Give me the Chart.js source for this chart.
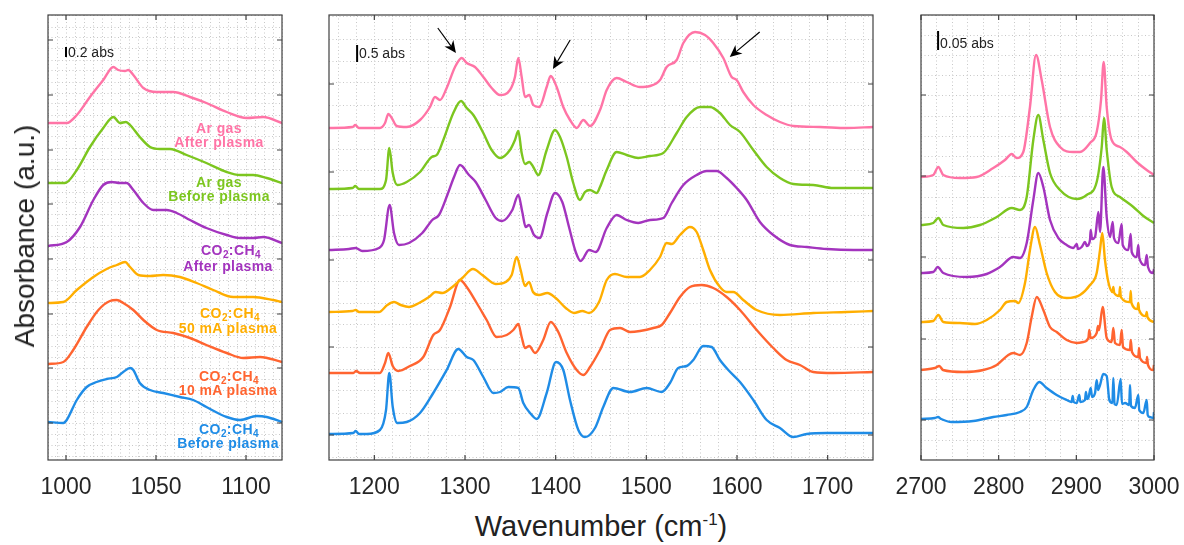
<!DOCTYPE html>
<html>
<head>
<meta charset="utf-8">
<script src="https://cdn.jsdelivr.net/npm/chart.js@4.4.1/dist/chart.umd.min.js"></script>
<style>
  body { margin: 0; background: #fff; font-family: "Liberation Sans", Arial, sans-serif; }
  #page { position: relative; width: 1184px; height: 545px; overflow: hidden; background: #fff; }
  .panel { position: absolute; }
  .lbl { position: absolute; font-weight: bold; font-size: 14px; line-height: 14px; letter-spacing: 0.4px; white-space: nowrap; transform: translate(-50%, -50%); z-index: 5; }
  .lbl sub { font-size: 10px; vertical-align: -3px; line-height: 0; }
  .bar-lbl { position: absolute; font-size: 14px; color: #222; white-space: nowrap; transform: translateY(-50%); z-index: 5; }
  #ytitle { position: absolute; left: 25px; top: 236px; font-size: 28px; color: #222; white-space: nowrap; transform: translate(-50%, -50%) rotate(-90deg); }
  #xtitle { position: absolute; left: 601px; top: 526px; font-size: 29px; color: #222; white-space: nowrap; transform: translate(-50%, -50%); }
  #xtitle sup { font-size: 17px; vertical-align: 11px; line-height: 0; }
</style>
</head>
<body>
<div id="page">
  <div class="panel" id="wrap1"><canvas id="c1"></canvas></div>
  <div class="panel" id="wrap2"><canvas id="c2"></canvas></div>
  <div class="panel" id="wrap3"><canvas id="c3"></canvas></div>

  <div class="lbl" style="left:219px;top:128px;color:#ff74a6">Ar gas</div>
  <div class="lbl" style="left:219px;top:142px;color:#ff74a6">After plasma</div>
  <div class="lbl" style="left:219px;top:182px;color:#7cc61f">Ar gas</div>
  <div class="lbl" style="left:219px;top:196px;color:#7cc61f">Before plasma</div>
  <div class="lbl" style="left:231px;top:250px;color:#a334be">CO<sub>2</sub>:CH<sub>4</sub></div>
  <div class="lbl" style="left:228px;top:266px;color:#a334be">After plasma</div>
  <div class="lbl" style="left:230px;top:313px;color:#ffae00">CO<sub>2</sub>:CH<sub>4</sub></div>
  <div class="lbl" style="left:228px;top:328px;color:#ffae00">50 mA plasma</div>
  <div class="lbl" style="left:229px;top:376px;color:#ff6430">CO<sub>2</sub>:CH<sub>4</sub></div>
  <div class="lbl" style="left:228px;top:390px;color:#ff6430">10 mA plasma</div>
  <div class="lbl" style="left:229px;top:429px;color:#1f8ce6">CO<sub>2</sub>:CH<sub>4</sub></div>
  <div class="lbl" style="left:228px;top:443px;color:#1f8ce6">Before plasma</div>

  <div class="bar-lbl" style="left:68px;top:52px">0.2 abs</div>
  <div class="bar-lbl" style="left:359px;top:53px">0.5 abs</div>
  <div class="bar-lbl" style="left:940px;top:43px">0.05 abs</div>

  <div id="ytitle">Absorbance (a.u.)</div>
  <div id="xtitle">Wavenumber (cm<sup>-1</sup>)</div>
</div>

<script>
// series order: top to bottom
var seriesNames = ['Ar gas, after plasma', 'Ar gas, before plasma', 'CO2:CH4, after plasma',
                   'CO2:CH4, 50 mA plasma', 'CO2:CH4, 10 mA plasma', 'CO2:CH4, before plasma'];
var seriesColors = ['#ff74a6', '#7cc61f', '#a334be', '#ffae00', '#ff6430', '#1f8ce6'];

// ---- panel 1 : 990-1120 cm-1 (offset absorbance, a.u.) ----
var p1ArAfter = [[990,337],[1000.4,337],[1006,345],[1013.3,363],[1020.7,380],[1026.3,393],[1029,390],[1032.8,389],[1034.6,390],[1037.4,385],[1043,372],[1050.4,368],[1059.6,368],[1068.9,363],[1078,357],[1089.3,348],[1100.4,342],[1109.6,343],[1120,337]];
var p1ArBefore = [[990,277],[999.4,277],[1006,290],[1013.3,313],[1020.7,332],[1026.3,343],[1030,337],[1033.3,338],[1035.6,335],[1041,323],[1046.7,313],[1052.2,311],[1057.8,311],[1067,305],[1078,297],[1089.3,288],[1096.7,285],[1104,285],[1111.5,282],[1120,277]];
var p1Co2After = [[990,214],[1000.4,218],[1007.8,233],[1015.2,260],[1020.7,275],[1025.4,278],[1030,277],[1033.7,277],[1037.4,270],[1043,257],[1048.5,250],[1055.9,250],[1061.5,247],[1068.9,240],[1078,232],[1089.3,225],[1096.7,222],[1104,222],[1109.6,223],[1120,217]];
var p1Co2Mid = [[990,157],[998.5,158],[1006,170],[1015.2,183],[1022.6,191],[1028.2,195],[1032.8,198],[1035.6,193],[1040.2,185],[1046.7,184],[1054,185],[1063.3,183],[1072.6,177],[1081.8,170],[1093,163],[1104,163],[1115,160],[1120,158]];
var p1Co2Low = [[990,96],[998.5,98],[1004,110],[1011.5,133],[1018,150],[1024.4,159],[1028.2,160],[1031.8,157],[1037.4,150],[1043,140],[1050.4,130],[1059.6,127],[1068.9,122],[1078,115],[1089.3,107],[1098.5,102],[1107.8,103],[1120,98]];
var p1Co2Before = [[990,38],[998.5,37],[1000.4,40],[1006,60],[1011.5,73],[1017,78],[1022.6,81],[1028.2,83],[1031.8,88],[1035.6,92],[1037.4,90],[1041,77],[1046.7,70],[1054,67],[1063.3,63],[1070.7,60],[1078,53],[1089.3,43],[1096.7,40],[1106,44],[1111.5,43],[1120,38]];
var p1ScaleBar = [[1000,403],[1000,413]];
var p1XTicks = [1000, 1050, 1100];
var p1YTicks = [37, 92, 146, 201, 256, 310, 365, 420];

// ---- panel 2 : 1150-1750 cm-1 ----
var p2ArAfter = [[1150,332],[1176,333],[1179,335],[1183,332],[1206.2,332],[1211.8,337],[1215.4,346],[1219.2,342],[1224.7,334],[1235.7,333],[1250.4,340],[1261.4,353],[1266.9,363],[1272.4,360],[1279.8,372],[1289,393],[1296.4,402],[1301.9,397],[1311,393],[1320.2,383],[1329.4,372],[1338.6,365],[1349.6,370],[1355.1,383],[1358.8,402],[1362.5,383],[1366.2,363],[1370.9,365],[1375.3,355],[1381.9,353],[1390.1,373],[1394.5,384],[1401.1,373],[1408.4,353],[1415.8,340],[1423.2,332],[1430.5,340],[1437.9,334],[1448.9,350],[1456.3,370],[1467.3,382],[1478.3,378],[1493,373],[1504,374],[1515.1,380],[1522.4,393],[1533.5,400],[1540.8,417],[1553.7,428],[1564.7,425],[1573.8,417],[1584.9,402],[1594.1,383],[1599.6,380],[1606.9,368],[1618,355],[1632.7,345],[1647.4,338],[1662.1,334],[1691.5,333],[1721,332],[1750,333]];
var p2ArBefore = [[1150,271],[1176,272],[1179,274],[1183,271],[1206.2,271],[1212.9,280],[1216.5,312],[1220.3,287],[1225.3,275],[1235.7,278],[1250.4,288],[1263.3,303],[1268.8,305],[1276.1,320],[1287.1,347],[1295.6,359],[1301.9,352],[1309.2,345],[1320.2,327],[1329.4,310],[1338.6,302],[1349.6,310],[1355.1,320],[1358.8,329],[1362.5,307],[1366.2,296],[1370.9,298],[1375.3,293],[1380.8,285],[1390.1,310],[1399.3,330],[1404.8,323],[1412.2,303],[1419.4,277],[1426.8,260],[1432.3,268],[1437.9,270],[1445.2,267],[1448.9,273],[1456.3,290],[1467.3,308],[1478.3,305],[1491.1,302],[1504,304],[1518.7,307],[1533.5,327],[1544.5,343],[1559.2,353],[1570.2,353],[1581.2,347],[1592.3,335],[1603.3,328],[1618,310],[1632.7,293],[1647.4,282],[1662.1,276],[1684.1,275],[1706.2,272],[1750,272]];
var p2Co2After = [[1150,210],[1172.1,211],[1179.4,212],[1186.7,209],[1205.1,212],[1210.7,220],[1216.9,255],[1221.7,227],[1227.2,215],[1238.2,217],[1252.9,227],[1263.9,240],[1271.3,245],[1280.5,265],[1287.9,283],[1294.5,295],[1304.4,285],[1311.8,278],[1322.8,260],[1333.9,242],[1341.1,239],[1352.2,250],[1358.8,265],[1363.2,248],[1366.9,233],[1370.6,235],[1376.1,225],[1382.4,222],[1390.8,247],[1399.3,267],[1407.3,258],[1414.7,233],[1422.1,208],[1427.6,199],[1436.8,210],[1444.2,208],[1456.3,232],[1467.3,245],[1478.3,240],[1491.1,237],[1504,240],[1518.7,242],[1528,257],[1540.8,275],[1555.5,285],[1566.6,289],[1577.6,289],[1588.6,282],[1599.6,272],[1610.7,260],[1625.3,238],[1640,225],[1658.4,215],[1676.9,213],[1698.9,211],[1728.3,210],[1750,210]];
var p2Co2Mid = [[1150,148],[1175.7,149],[1179.4,150],[1183.1,148],[1205.1,148],[1214.3,155],[1221.7,158],[1229.1,155],[1238.2,153],[1249.3,157],[1260.3,163],[1267.7,168],[1275,167],[1286,173],[1297,182],[1308.8,191],[1319.1,185],[1333.9,176],[1344.9,178],[1351.5,185],[1357,203],[1361.4,190],[1366.2,174],[1370.6,178],[1375,168],[1381.6,165],[1390.8,167],[1400,162],[1411.1,152],[1420.2,147],[1429.4,149],[1436.8,147],[1447.8,158],[1456.3,180],[1465.4,186],[1478.3,183],[1493,183],[1504,190],[1515.1,203],[1522.4,217],[1528,216],[1537.1,225],[1548.1,233],[1555.5,228],[1562.8,210],[1570.2,190],[1581.2,173],[1588.6,168],[1595.9,168],[1606.9,160],[1621.7,150],[1647.4,145],[1684.1,147],[1721,148],[1750,149]];
var p2Co2Low = [[1150,87],[1176.8,87],[1180,89],[1184.2,87],[1206.2,87],[1211.8,97],[1215.4,107],[1220.3,94],[1226.4,89],[1239.3,94],[1254,103],[1265,125],[1272.4,130],[1283.5,153],[1294.5,180],[1301.9,173],[1312.9,157],[1323.9,140],[1335,123],[1346,125],[1353.3,130],[1358.8,136],[1362.5,123],[1366.2,112],[1370.9,114],[1377.2,107],[1386.3,120],[1394.5,138],[1402.9,128],[1412.2,107],[1423.2,90],[1430.5,85],[1437.9,93],[1448.9,110],[1460,130],[1471,132],[1482,128],[1493,129],[1507.7,132],[1516.9,135],[1526.1,147],[1537.1,163],[1548.1,173],[1561,175],[1573.8,172],[1588.6,163],[1603.3,150],[1621.7,130],[1640,112],[1654.7,100],[1669.4,95],[1684.1,88],[1706.2,87],[1750,88]];
var p2Co2Before = [[1150,26],[1176.8,27],[1179.5,29],[1183,26],[1191.6,26],[1206.2,30],[1212.9,50],[1216.5,87],[1220.3,53],[1225.3,37],[1235.7,38],[1250.4,47],[1265,67],[1279.8,90],[1292.6,111],[1301.9,103],[1309.2,100],[1320.2,83],[1331.2,67],[1338.6,68],[1347.8,73],[1358.8,72],[1364.3,57],[1371.7,47],[1379.1,41],[1390.1,67],[1400.4,98],[1408.4,90],[1415.8,60],[1425,30],[1432.3,23],[1443.4,32],[1452.5,53],[1463.6,72],[1482,68],[1500.4,72],[1516.9,68],[1526.1,77],[1535.2,92],[1544.5,94],[1551.8,100],[1562.8,114],[1572,113],[1581.2,100],[1590.4,90],[1603.3,78],[1618,60],[1632.7,40],[1647.4,32],[1662.1,23],[1676.9,26],[1698.9,27],[1750,27]];
var p2ScaleBar = [[1181,398],[1181,415]];
var p2XTicks = [1200, 1300, 1400, 1500, 1600, 1700];
var p2YTicks = [25, 113, 200, 288, 376];
var p2Arrows = [
  { from: [1270, 432], to: [1290, 407] },
  { from: [1416, 420], to: [1397, 391] },
  { from: [1625, 428], to: [1592, 403] }
];

// ---- panel 3 : 2700-3000 cm-1 ----
var p3ArAfter = [[2700,283],[2715.8,285],[2722.3,293],[2728.7,285],[2750.2,282],[2771.7,283],[2793.1,292],[2808.1,300],[2816.8,306],[2823.2,302],[2831.7,308],[2840.3,353],[2848.1,405],[2855.4,380],[2866.1,333],[2879,313],[2896.1,308],[2904.7,308],[2917.6,317],[2926.2,328],[2931.8,360],[2935.2,398],[2939.1,353],[2945.5,320],[2956.2,313],[2964.9,308],[2977.7,298],[2990.6,290],[3000,285]];
var p3ArBefore = [[2700,235],[2715.8,237],[2722.3,242],[2728.7,235],[2754.5,232],[2776,235],[2797.5,243],[2816.8,252],[2827.5,250],[2836.1,263],[2844.6,320],[2851,345],[2857.5,320],[2866.1,287],[2879,270],[2900.5,261],[2913.3,265],[2926.2,278],[2932.7,313],[2935.6,342],[2939.1,310],[2945.5,273],[2956.2,263],[2973.4,253],[2986.3,244],[3000,237]];
var p3Co2After = [[2700,187],[2715.8,188],[2721.5,193],[2728.7,187],[2758.8,183],[2784.6,186],[2801.7,193],[2818.8,203],[2827.5,202],[2836.1,217],[2844.6,260],[2851,287],[2857.5,273],[2866.1,240],[2876.8,222],[2887.6,215],[2896.1,212],[2900.5,216],[2902.1,211],[2906.9,213],[2911.1,218],[2913.7,214],[2917.6,220],[2918.5,230],[2920.3,221],[2924.1,223],[2928.4,248],[2930.5,228],[2934.7,293],[2939.1,243],[2943.4,223],[2946.8,238],[2948.5,222],[2954,217],[2958.4,236],[2959.7,215],[2966.9,210],[2970,226],[2971.3,208],[2977.7,203],[2979.8,215],[2981.1,202],[2988.4,195],[2990.6,205],[2992.3,193],[2999,187],[3000,191]];
var p3Co2Mid = [[2700,138],[2715.8,139],[2722.3,145],[2728.7,138],[2750.2,137],[2769.5,136],[2784.6,140],[2801.7,150],[2810.3,158],[2821,159],[2825.3,157],[2833.9,177],[2840.3,210],[2846.8,233],[2853.2,215],[2861.8,187],[2872.5,168],[2887.6,162],[2904.7,165],[2917.6,175],[2926.2,187],[2930.5,210],[2933.4,227],[2936.9,200],[2941.2,178],[2946.5,168],[2947.6,173],[2948.8,167],[2955.2,164],[2956.2,173],[2957.3,163],[2969,158],[2970,169],[2971,157],[2978.8,151],[2979.8,157],[2980.8,150],[2989.6,144],[2990.6,148],[2991.6,143],[3000,138]];
var p3Co2Low = [[2700,90],[2718,92],[2723.6,94],[2728.3,90],[2754.5,88],[2780.2,90],[2797.5,95],[2812.4,105],[2818.8,107],[2827.5,105],[2836.1,117],[2842.5,143],[2849,163],[2857.5,150],[2866.1,133],[2874.7,128],[2887.6,120],[2900.5,117],[2909,118],[2915.5,122],[2916.7,130],[2918.3,122],[2926.2,127],[2927.9,134],[2929.2,130],[2933.9,153],[2939.1,122],[2945.5,118],[2947.6,132],[2949.8,117],[2956.2,115],[2958.4,130],[2960.1,113],[2969.1,110],[2970,120],[2971.7,108],[2979.8,103],[2980.7,112],[2982,102],[2990.6,97],[2991,103],[2992.3,95],[2999,90],[3000,95]];
var p3Co2Before = [[2700,41],[2718,42],[2721.9,43],[2726,41],[2739.5,38],[2767.3,39],[2793.1,43],[2810.3,45],[2827.5,48],[2836.1,53],[2844.6,70],[2852.3,78],[2861.8,72],[2874.7,65],[2887.6,60],[2894,58],[2895.3,64],[2896.6,58],[2900.5,57],[2903.8,65],[2905.1,58],[2911.1,60],[2912.4,68],[2913.7,61],[2915.5,62],[2918.5,72],[2920.3,63],[2924.1,67],[2926.2,80],[2927.9,70],[2930.5,75],[2934.7,86],[2939.1,84],[2942.5,60],[2946.5,57],[2947.6,82],[2949.2,56],[2952,55],[2957.1,81],[2958.8,56],[2962.7,57],[2968.1,55],[2969.1,75],[2970.4,54],[2975.5,52],[2979.8,65],[2981,50],[2986.3,47],[2990.6,60],[2991.9,45],[2994.4,43],[2999.4,42],[3000,48]];
var p3ScaleBar = [[2722,410],[2722,429]];
var p3XTicks = [2700, 2800, 2900, 3000];
var p3YTicks = [40, 121, 203, 284, 365];

var PAD = 40;

function xGrid(min, max, step) {
  var t = [];
  for (var v = Math.ceil(min / step) * step; v <= max + 1e-9; v += step) {
    t.push({ value: Math.round(v * 1000) / 1000 });
  }
  return t;
}

function yGrid(majors, parts, min, max) {
  var step = (majors[1] - majors[0]) / parts;
  var t = [];
  var v = majors[0];
  while (v - step >= min) v -= step;
  for (; v <= max + 1e-9; v += step) t.push({ value: v });
  return t;
}

var framePlugin = {
  id: 'frame',
  afterDatasetsDraw: function(chart) {
    var o = chart.options.plugins.frame;
    if (!o) return;
    var a = chart.chartArea, ctx = chart.ctx;
    var xs = chart.scales.x, ys = chart.scales.y;
    ctx.save();
    ctx.strokeStyle = '#404040';
    ctx.lineWidth = 1.2;
    ctx.strokeRect(a.left, a.top, a.right - a.left, a.bottom - a.top);
    ctx.beginPath();
    o.xMajor.forEach(function(v) {
      var px = xs.getPixelForValue(v);
      ctx.moveTo(px, a.bottom); ctx.lineTo(px, a.bottom - 5);
      ctx.moveTo(px, a.top); ctx.lineTo(px, a.top + 5);
    });
    o.yMajor.forEach(function(v) {
      var py = ys.getPixelForValue(v);
      ctx.moveTo(a.left, py); ctx.lineTo(a.left + 5, py);
      ctx.moveTo(a.right, py); ctx.lineTo(a.right - 5, py);
    });
    ctx.stroke();

    // arrows
    (o.arrows || []).forEach(function(ar) {
      var x1 = xs.getPixelForValue(ar.from[0]), y1 = ys.getPixelForValue(ar.from[1]);
      var x2 = xs.getPixelForValue(ar.to[0]), y2 = ys.getPixelForValue(ar.to[1]);
      var ang = Math.atan2(y2 - y1, x2 - x1);
      var len = 12, half = 5.5;
      var bx = x2 - Math.cos(ang) * len, by = y2 - Math.sin(ang) * len;
      var ix = x2 - Math.cos(ang) * len * 0.7, iy = y2 - Math.sin(ang) * len * 0.7;
      ctx.strokeStyle = '#000';
      ctx.lineWidth = 1.2;
      ctx.beginPath();
      ctx.moveTo(x1, y1); ctx.lineTo(ix, iy);
      ctx.stroke();
      ctx.fillStyle = '#000';
      ctx.beginPath();
      ctx.moveTo(x2, y2);
      ctx.lineTo(bx - Math.sin(ang) * half, by + Math.cos(ang) * half);
      ctx.lineTo(ix, iy);
      ctx.lineTo(bx + Math.sin(ang) * half, by - Math.cos(ang) * half);
      ctx.closePath();
      ctx.fill();
    });
    ctx.restore();
  }
};

function makePanel(canvasId, wrapId, box, cfg) {
  var wrap = document.getElementById(wrapId);
  wrap.style.left = (box.left - PAD) + 'px';
  wrap.style.top = (box.top - 5) + 'px';
  wrap.style.width = (box.width + 2 * PAD) + 'px';
  wrap.style.height = (box.height + 5 + 45) + 'px';

  var datasets = cfg.series.map(function(s, i) {
    return {
      label: seriesNames[i],
      data: s.map(function(p) { return { x: p[0], y: p[1] }; }),
      borderColor: seriesColors[i],
      borderWidth: 2.4,
      pointRadius: 0,
      cubicInterpolationMode: 'monotone',
      fill: false
    };
  });
  datasets.push({
    label: 'scale bar',
    data: cfg.scaleBar.map(function(p) { return { x: p[0], y: p[1] }; }),
    borderColor: '#000',
    borderWidth: 2,
    pointRadius: 0,
    fill: false
  });

  var xTickList = xGrid(cfg.xMin, cfg.xMax, cfg.xMinor);
  var yTickList = yGrid(cfg.yMajor, cfg.yParts, 0, 445);

  new Chart(document.getElementById(canvasId), {
    type: 'line',
    data: { datasets: datasets },
    options: {
      responsive: true,
      maintainAspectRatio: false,
      animation: false,
      layout: { padding: { left: PAD, right: PAD, top: 5, bottom: 0 } },
      plugins: {
        legend: { display: false },
        tooltip: { enabled: false },
        frame: { xMajor: cfg.xMajor, yMajor: cfg.yMajor, arrows: cfg.arrows }
      },
      scales: {
        x: {
          type: 'linear',
          min: cfg.xMin,
          max: cfg.xMax,
          afterBuildTicks: function(scale) { scale.ticks = xTickList.slice(); },
          afterFit: function(scale) { scale.height = 45; },
          ticks: {
            autoSkip: false,
            maxRotation: 0,
            padding: 14,
            color: '#262626',
            font: { family: '"Liberation Sans", Arial, sans-serif', size: 23 },
            callback: function(value) { return cfg.xMajor.indexOf(value) >= 0 ? String(value) : ''; }
          },
          grid: { color: '#c8c8c8', lineWidth: 1, drawTicks: false },
          border: { display: false, dash: [1, 2.5] }
        },
        y: {
          type: 'linear',
          min: 0,
          max: 445,
          afterBuildTicks: function(scale) { scale.ticks = yTickList.slice(); },
          afterFit: function(scale) { scale.width = 0; },
          ticks: { display: false },
          grid: { color: '#c8c8c8', lineWidth: 1, drawTicks: false },
          border: { display: false, dash: [1, 2.5] }
        }
      }
    },
    plugins: [framePlugin]
  });
}

makePanel('c1', 'wrap1', { left: 48, top: 15, width: 234, height: 445 }, {
  series: [p1ArAfter, p1ArBefore, p1Co2After, p1Co2Mid, p1Co2Low, p1Co2Before],
  scaleBar: p1ScaleBar,
  xMin: 990, xMax: 1120, xMinor: 5, xMajor: p1XTicks,
  yMajor: p1YTicks, yParts: 5
});

makePanel('c2', 'wrap2', { left: 329, top: 15, width: 544, height: 445 }, {
  series: [p2ArAfter, p2ArBefore, p2Co2After, p2Co2Mid, p2Co2Low, p2Co2Before],
  scaleBar: p2ScaleBar,
  xMin: 1150, xMax: 1750, xMinor: 20, xMajor: p2XTicks,
  yMajor: p2YTicks, yParts: 4,
  arrows: p2Arrows
});

makePanel('c3', 'wrap3', { left: 921, top: 15, width: 233, height: 445 }, {
  series: [p3ArAfter, p3ArBefore, p3Co2After, p3Co2Mid, p3Co2Low, p3Co2Before],
  scaleBar: p3ScaleBar,
  xMin: 2700, xMax: 3000, xMinor: 20, xMajor: p3XTicks,
  yMajor: p3YTicks, yParts: 4
});
</script>
</body>
</html>
